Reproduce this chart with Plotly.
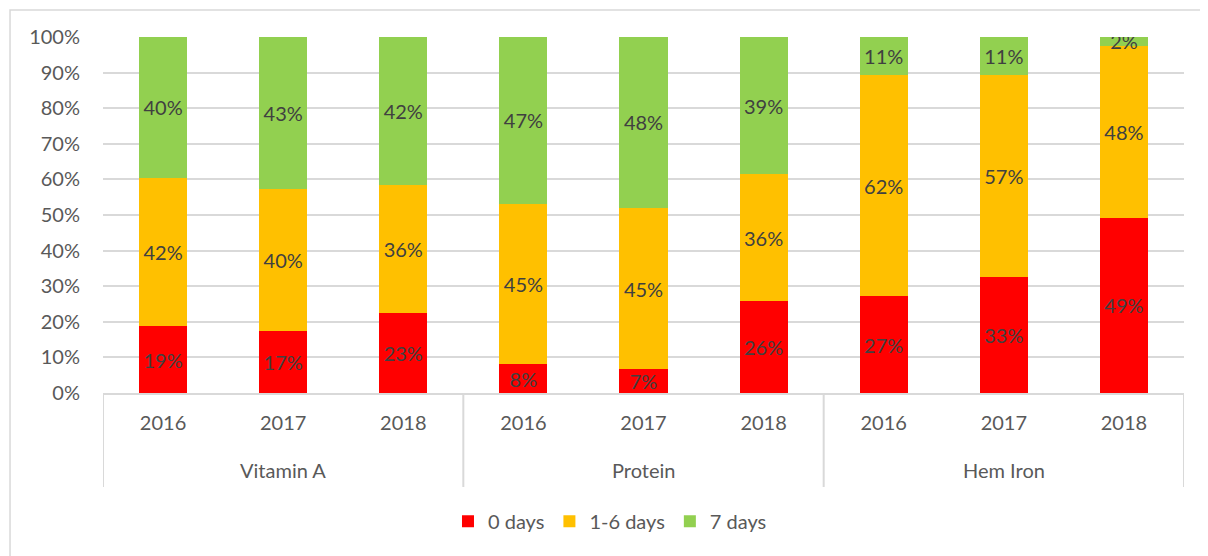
import plotly.graph_objects as go

groups = ["Vitamin A"] * 3 + ["Protein"] * 3 + ["Hem Iron"] * 3
years = ["2016", "2017", "2018"] * 3
zero_days = [18.8, 17.4, 22.6, 8.1, 6.7, 25.8, 27.2, 32.6, 49.2]
one_six_days = [41.6, 39.9, 35.8, 45.0, 45.3, 35.6, 62.1, 56.7, 48.4]
seven_days = [39.6, 42.7, 41.6, 46.9, 48.0, 38.6, 10.7, 10.7, 2.4]
series_names = ["0 days", "1-6 days", "7 days"]
colors = ["#ff0000", "#ffc000", "#92d050"]
group_names = ["Vitamin A", "Protein", "Hem Iron"]

FONT = "Lato, Open Sans, sans-serif"
cats = [f"{g}|{y}" for g, y in zip(groups, years)]

fig = go.Figure()
for name, vals, col in zip(series_names, [zero_days, one_six_days, seven_days], colors):
    fig.add_trace(go.Bar(
        x=cats, y=[v / 100 for v in vals], name=name,
        marker=dict(color=col, line=dict(width=0)),
        text=[f"{round(v)}%" for v in vals],
        textposition="inside", insidetextanchor="middle", constraintext="none",
        textfont=dict(family=FONT, size=20, color="#404040"),
        textangle=0,
    ))

fig.update_layout(
    barmode="stack", bargap=0.6,
    width=1200, height=548,
    margin=dict(l=95, r=24, t=29, b=163),
    paper_bgcolor="white", plot_bgcolor="white",
    font=dict(family=FONT, size=20, color="#595959"),
    legend=dict(orientation="h", x=0.469, xanchor="center", y=-0.36, yanchor="middle",
                font=dict(size=20, color="#595959"), traceorder="normal"),
    yaxis=dict(range=[0, 1], tickformat=".0%", dtick=0.1, showgrid=True,
               gridcolor="#d9d9d9", gridwidth=2, zeroline=False,
               tickfont=dict(size=20, color="#595959"), ticks="outside", ticklen=18,
               tickcolor="rgba(0,0,0,0)", automargin=False),
    xaxis=dict(type="category", tickvals=cats, ticktext=years, range=[-0.5, 8.5],
               showline=True, linecolor="#d9d9d9", linewidth=2,
               ticks="outside", ticklen=11, tickcolor="rgba(0,0,0,0)",
               tickfont=dict(size=20, color="#595959"), automargin=False),
    showlegend=True,
)
# group labels and dividers
for i, g in enumerate(group_names):
    fig.add_annotation(x=3 * i + 1, xref="x", y=-0.216, yref="paper", text=g,
                       showarrow=False, yanchor="middle",
                       font=dict(family=FONT, size=20, color="#595959"))
for b in [-0.5, 2.5, 5.5, 8.5]:
    fig.add_shape(type="line", xref="x", yref="paper", x0=b, x1=b, y0=0, y1=-0.264,
                  line=dict(color="#d9d9d9", width=2))
fig.add_shape(type="rect", xref="paper", yref="paper", x0=-0.086, x1=1.2, y0=-1, y1=1.0758,
              line=dict(color="#d9d9d9", width=1.5), fillcolor="rgba(0,0,0,0)", layer="below")
fig.write_html("out.html")
